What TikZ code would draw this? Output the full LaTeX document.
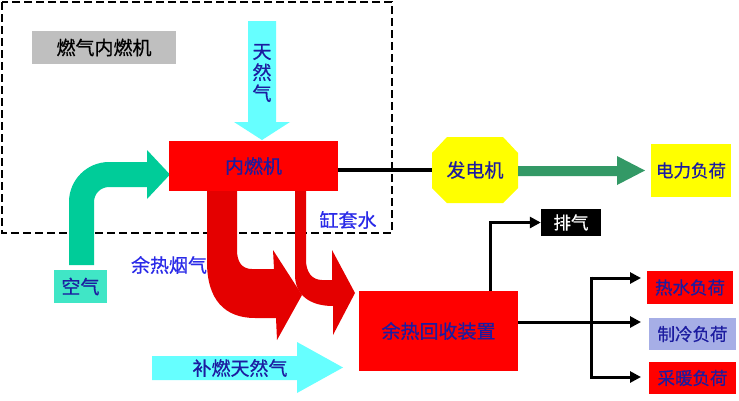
\documentclass[tikz,border=0pt]{standalone}
\usepackage{fontspec}
\newfontfamily\cjk[FakeBold=0.6]{Noto Sans CJK SC}
\usetikzlibrary{arrows.meta}
\definecolor{dblue}{HTML}{1C1CA0}
\definecolor{bblue}{HTML}{2A2AE8}
\definecolor{engred}{HTML}{FF0000}
\definecolor{arrred}{HTML}{E40000}
\definecolor{aqua}{HTML}{66FFFF}
\definecolor{tealarrow}{HTML}{00CC99}
\definecolor{airbox}{HTML}{40E6C6}
\definecolor{sgreen}{HTML}{339966}
\definecolor{lav}{HTML}{A6AEE6}
\definecolor{greybox}{HTML}{BFBFBF}
\definecolor{yel}{HTML}{FFFF00}
\begin{document}
\begin{tikzpicture}[x=1pt,y=-1pt,
  txt/.style={font=\cjk\fontsize{19}{19}\selectfont, text=dblue, inner sep=0pt},
  smalltxt/.style={font=\cjk\fontsize{17.5}{17.5}\selectfont, text=dblue, inner sep=0pt},
  fbox/.style={inner sep=0pt, anchor=center},
  blk/.style={draw=black, line width=3pt, -{Triangle[length=11pt,width=11pt]}},
]
\useasboundingbox (0,0) rectangle (739,400);
\fill[white] (0,0) rectangle (739,400);

% dashed frame
\draw[line width=2.4pt, dash pattern=on 8pt off 4pt] (2,2) rectangle (392,233);
\node[fbox, fill=greybox, minimum width=144pt, minimum height=33pt, txt, text=black] (title) at (104,47.5) {燃气内燃机};

% natural gas arrow down
\fill[aqua] (248,21) -- (276,21) -- (276,122) -- (290,122) -- (262,140) -- (234,122) -- (248,122) -- cycle;
\node[txt, align=center, font=\cjk\fontsize{19}{21}\selectfont] (ng) at (262,73) {天\\然\\气};

% air curved arrow
\fill[tealarrow] (69,265) -- (69,202) arc (180:270:40) -- (147,162) -- (147,150) -- (170,174.5) -- (147,199) -- (147,187) -- (109,187) arc (270:180:15) -- (94,265) -- cycle;
\node[fbox, fill=airbox, minimum width=53pt, minimum height=33pt, txt] (air) at (80.5,286.5) {空气};

% flue gas arrow
\fill[arrred] (207,185) -- (207,262) .. controls (207,300) and (225,318) .. (255,318) -- (276,318) -- (277,340) -- (302,295) -- (273,250) -- (274,269) -- (252,269) .. controls (242,269) and (237,262) .. (237,250) -- (237,185) -- cycle;
% jacket water arrow
\fill[arrred] (295,185) -- (295,275) .. controls (295,295) and (310,306) .. (333,306) -- (333,335) -- (355,293) -- (332,250) -- (332,280) -- (322,280) .. controls (312,280) and (306,272) .. (306,260) -- (306,185) -- cycle;

% engine
\node[fbox, fill=engred, minimum width=169pt, minimum height=50pt, txt] (ice) at (253.5,166) {内燃机};

% generator octagon
\fill[yel] (447,137) -- (503,137) -- (518,153) -- (518,188) -- (503,203) -- (447,203) -- (432,188) -- (432,153) -- cycle;
\node[fbox, minimum width=86pt, minimum height=66pt, txt] (gen) at (475,170) {发电机};
\draw[line width=4pt] (ice.east |- gen) -- (gen);

% green arrow to power load
\node[fbox, fill=yel, minimum width=80pt, minimum height=53pt, smalltxt] (pl) at (691,170.5) {电力负荷};
\fill[sgreen] (gen.east |- 0,166) -- (617,166) -- (617,156) -- (645,170.5) -- (617,185) -- (617,176) -- (gen.east |- 0,176) -- cycle;

% labels
\node[txt, text=bblue] (jw) at (348,220) {缸套水};
\node[txt, text=bblue] (fg) at (169,265) {余热烟气};

% supplementary gas arrow
\fill[aqua] (152,356) -- (297,356) -- (297,342) -- (343,367.5) -- (297,393) -- (297,380) -- (152,380) -- cycle;
\node[txt] (sg) at (240,368) {补燃天然气};

% heat recovery
\node[fbox, fill=engred, minimum width=159pt, minimum height=80pt, txt] (hr) at (438.5,331) {余热回收装置};

% exhaust
\node[fbox, fill=black, minimum width=60pt, minimum height=27pt, smalltxt, text=white] (ex) at (571,222.5) {排气};
\draw[blk] ([xshift=51.5pt]hr.north) |- (ex.west);

% loads
\node[fbox, fill=engred, minimum width=86pt, minimum height=33pt, smalltxt] (hw) at (690,287.5) {热水负荷};
\node[fbox, fill=lav, minimum width=87pt, minimum height=32pt, smalltxt] (cl) at (692.5,334) {制冷负荷};
\node[fbox, fill=engred, minimum width=87pt, minimum height=32pt, smalltxt] (ht) at (692.5,378) {采暖负荷};

\coordinate (split) at (591,322);
\coordinate (thw) at (641,278);
\coordinate (tcl) at (641,322);
\coordinate (tht) at (641,377);
\draw[line width=3pt] ([yshift=9pt]hr.east) -- (split);
\draw[blk] (split) -- (tcl);
\draw[blk] (split |- thw) -- (thw);
\draw[blk] (split |- tht) -- (tht);
\draw[line width=3pt] ([yshift=1.5pt]split |- thw) -- ([yshift=-1.5pt]split |- tht);
\end{tikzpicture}
\end{document}
